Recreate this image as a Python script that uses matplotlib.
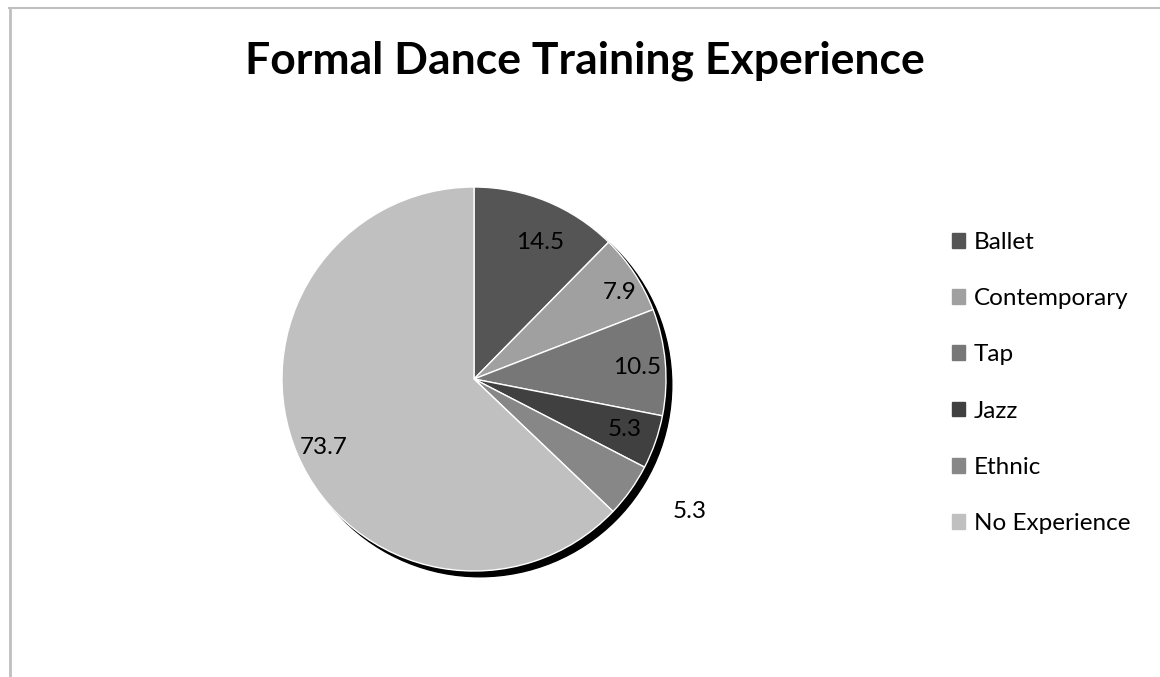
import numpy as np
import matplotlib
matplotlib.use("Agg")
import matplotlib.pyplot as plt
from matplotlib.patches import Circle
from matplotlib.lines import Line2D

categories = ["Ballet", "Contemporary", "Tap", "Jazz", "Ethnic", "No Experience"]
values = [14.5, 7.9, 10.5, 5.3, 5.3, 73.7]
labels = ["14.5", "7.9", "10.5", "5.3", "5.3", "73.7"]

colors = ["#555555", "#a0a0a0", "#777777", "#404040", "#878787", "#c0c0c0"]
# data label placement (radius, angle nudge in degrees)
label_dist = [0.79, 0.88, 0.85, 0.83, 1.32, 0.86]
label_nudge = [-3.7, -2.7, -0.9, 0.7, 3.9, 1.5]

plt.rcParams['font.family'] = ['Lato', 'DejaVu Sans']

fig = plt.figure(figsize=(11.6, 6.77), dpi=100)

# chart frame (top and left edges visible)
fig.add_artist(Line2D([9 / 1160, 1], [1 - 8 / 677, 1 - 8 / 677], color="#bfbfbf", lw=1.5))
fig.add_artist(Line2D([9.5 / 1160, 9.5 / 1160], [0, 1 - 8 / 677], color="#bfbfbf", lw=2))

fig.text(585 / 1160, 1 - 61 / 677, "Formal Dance Training Experience",
         ha="center", va="center", fontsize=32, fontweight="bold")

# pie axes: centre (474, 379), radius 192 px
half = 288
ax = fig.add_axes([(474 - half) / 1160, (677 - 379 - half) / 677, 2 * half / 1160, 2 * half / 677])

# drop shadow
ax.add_patch(Circle((0.03, -0.03), 1.0, color="black", zorder=0))

wedges, _ = ax.pie(values, colors=colors, startangle=90, counterclock=False,
                   radius=1.0, wedgeprops=dict(edgecolor="white", linewidth=1),
                   frame=True)
ax.set_xlim(-1.5, 1.5)
ax.set_ylim(-1.5, 1.5)
ax.set_aspect("equal")
ax.axis("off")

for w, lab, d, n in zip(wedges, labels, label_dist, label_nudge):
    ang = np.deg2rad((w.theta1 + w.theta2) / 2 + n)
    ax.text(d * np.cos(ang), d * np.sin(ang), lab, ha="center", va="center", fontsize=17.5)

# legend
handles = [plt.Rectangle((0, 0), 1, 1, color=c) for c in colors]
fig.legend(handles, categories, loc="upper left", bbox_to_anchor=(930 / 1160, 1 - 210 / 677),
           frameon=False, fontsize=17.5, handlelength=0.55, handleheight=0.55,
           handletextpad=0.35, labelspacing=1.45)

fig.savefig("out.png", dpi=100)
